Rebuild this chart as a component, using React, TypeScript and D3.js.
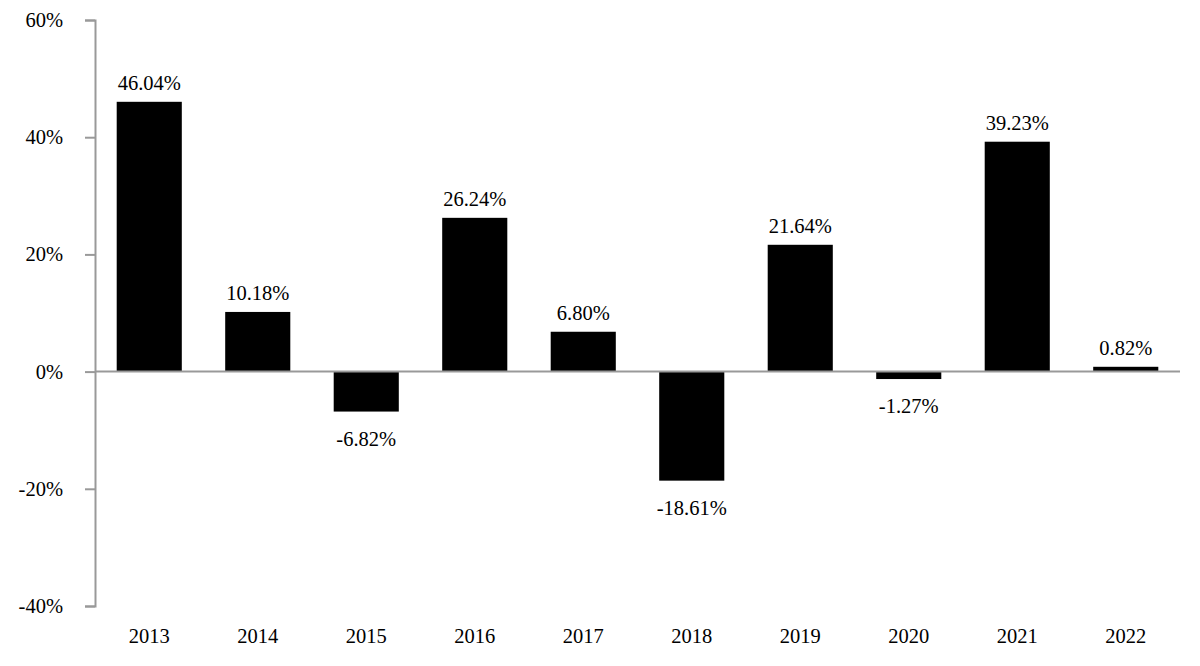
import React, { useEffect, useRef } from "react";
import * as d3 from "d3";

const years = ["2013", "2014", "2015", "2016", "2017", "2018", "2019", "2020", "2021", "2022"];
const returns = [46.04, 10.18, -6.82, 26.24, 6.8, -18.61, 21.64, -1.27, 39.23, 0.82];
const yTicks = [60, 40, 20, 0, -20, -40];

const App: React.FC = () => {
  const svgRef = useRef<SVGSVGElement | null>(null);

  useEffect(() => {
    const width = 1200;
    const height = 666;
    const marginLeft = 95;
    const marginRight = 20;
    const marginTop = 20;
    const marginBottom = 60;
    const font = "'Liberation Serif', 'Times New Roman', serif";
    const fontSize = "20.5px";

    const svg = d3.select(svgRef.current);
    svg.selectAll("*").remove();
    svg.attr("width", width).attr("height", height).attr("viewBox", [0, 0, width, height]);

    const x = d3
      .scaleBand()
      .domain(years)
      .range([marginLeft, width - marginRight])
      .paddingInner(0.4)
      .paddingOuter(0.2);

    const y = d3
      .scaleLinear()
      .domain([-40, 60])
      .range([height - marginBottom, marginTop]);

    // y axis
    const gy = svg
      .append("g")
      .attr("transform", `translate(${marginLeft},0)`)
      .call(
        d3
          .axisLeft(y)
          .tickValues(yTicks)
          .tickSize(10)
          .tickPadding(22)
          .tickFormat((d) => `${d}%`),
      );
    gy.select(".domain").attr("stroke", "#999").attr("stroke-width", 2);
    gy.selectAll(".tick line").attr("stroke", "#999").attr("stroke-width", 2);
    gy.selectAll("text")
      .attr("fill", "#000")
      .style("font-family", font)
      .style("font-size", fontSize);

    // bars
    svg
      .append("g")
      .selectAll("rect")
      .data(returns)
      .join("rect")
      .attr("x", (_, i) => x(years[i]) as number)
      .attr("width", x.bandwidth())
      .attr("y", (d) => y(Math.max(0, d)))
      .attr("height", (d) => Math.abs(y(d) - y(0)))
      .attr("fill", "#000");

    // zero line
    svg
      .append("line")
      .attr("x1", marginLeft)
      .attr("x2", width - marginRight)
      .attr("y1", y(0))
      .attr("y2", y(0))
      .attr("stroke", "#999")
      .attr("stroke-width", 2);

    // value labels
    svg
      .append("g")
      .selectAll("text")
      .data(returns)
      .join("text")
      .attr("x", (_, i) => (x(years[i]) as number) + x.bandwidth() / 2)
      .attr("y", (d) => (d >= 0 ? y(d) - 12 : y(d) + 34))
      .attr("text-anchor", "middle")
      .style("font-family", font)
      .style("font-size", fontSize)
      .text((d) => `${d.toFixed(2)}%`);

    // year labels
    svg
      .append("g")
      .selectAll("text")
      .data(years)
      .join("text")
      .attr("x", (d) => (x(d) as number) + x.bandwidth() / 2)
      .attr("y", height - 23)
      .attr("text-anchor", "middle")
      .style("font-family", font)
      .style("font-size", fontSize)
      .text((d) => d);
  }, []);

  return (
    <div style={{ position: "absolute", left: 0, top: 0, background: "#fff" }}>
      <svg ref={svgRef} style={{ display: "block" }}></svg>
    </div>
  );
};

export default App;
